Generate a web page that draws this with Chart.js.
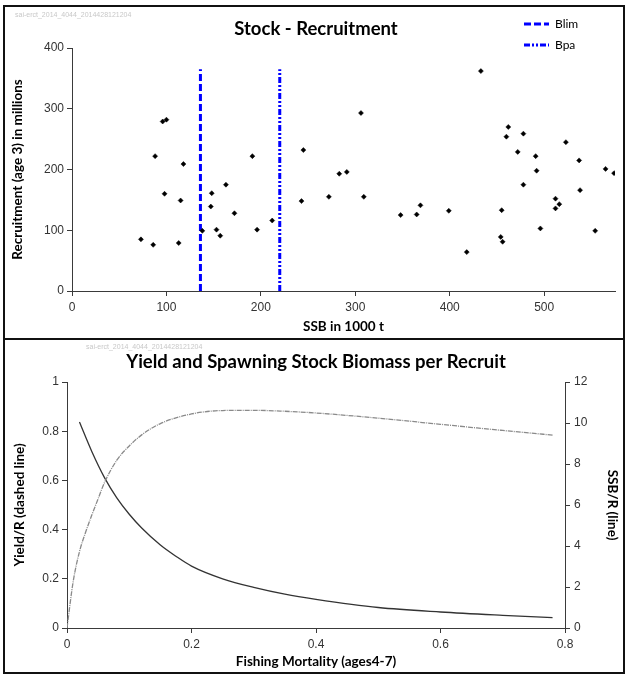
<!DOCTYPE html>
<html><head><meta charset="utf-8">
<script src="https://cdn.jsdelivr.net/npm/chart.js@4.4.0/dist/chart.umd.min.js"></script>
<style>
html,body{margin:0;padding:0;background:#fff;width:627px;height:675px;overflow:hidden;position:relative;}
.panel{position:absolute;border:2px solid #111;box-sizing:border-box;pointer-events:none;}
canvas{position:absolute;left:0;}
</style></head><body>
<canvas id="c1" width="627" height="338" style="top:0px;width:627px;height:338px"></canvas>
<canvas id="c2" width="627" height="336" style="top:339px;width:627px;height:336px"></canvas>
<div class="panel" style="left:3px;top:5px;width:622px;height:335px"></div>
<div class="panel" style="left:3px;top:338px;width:622px;height:336px"></div>
<script>
// ---------- Stock - Recruitment data ----------
const ssbValues = [73, 86, 88, 96, 100, 98, 113, 115, 118, 138, 147, 148, 153, 157, 163, 172, 191, 196, 212, 245, 243, 272, 283, 291, 306, 309, 348, 365, 369, 399, 418, 433, 454, 456, 455, 460, 462, 472, 478, 478, 491, 492, 496, 512, 512, 516, 523, 537, 538, 554, 565, 574];
const recruitValues = [85, 76, 222, 279, 282, 160, 79, 149, 209, 99, 139, 161, 101, 91, 175, 128, 222, 101, 116, 232, 148, 155, 193, 196, 293, 155, 125, 126, 141, 132, 64, 362, 89, 81, 133, 254, 270, 229, 259, 175, 222, 198, 103, 152, 136, 143, 245, 215, 166, 99, 201, 194];
const blimValue = 136;
const bpaValue = 220;
const refLineRange = [0, 365];
const srXTicks = [0, 100, 200, 300, 400, 500];
const srYTicks = [0, 100, 200, 300, 400];

// ---------- Yield / SSB per recruit data ----------
const fYield = [0, 0.01, 0.02, 0.03, 0.04, 0.05, 0.06, 0.08, 0.10, 0.12, 0.15, 0.20, 0.25, 0.30, 0.35, 0.40, 0.50, 0.60, 0.70, 0.78];
const yieldPerRecruit = [0, 0.19, 0.31, 0.39, 0.46, 0.525, 0.59, 0.682, 0.740, 0.785, 0.831, 0.870, 0.884, 0.885, 0.881, 0.874, 0.853, 0.828, 0.803, 0.784];
const fSsb = [0.02, 0.04, 0.06, 0.08, 0.10, 0.12, 0.15, 0.175, 0.20, 0.25, 0.30, 0.35, 0.40, 0.50, 0.60, 0.70, 0.78];
const ssbPerRecruit = [10.05, 8.6, 7.35, 6.35, 5.55, 4.88, 4.05, 3.5, 3.02, 2.4, 1.98, 1.65, 1.40, 1.0, 0.78, 0.62, 0.51];
const ypXTicks = [0, 0.2, 0.4, 0.6, 0.8];
const ypLeftTicks = [0, 0.2, 0.4, 0.6, 0.8, 1];
const ypRightTicks = [0, 2, 4, 6, 8, 10, 12];

const watermark = 'sai-erct_2014_4044_2014428121204';
const TICK_FONT = {family: "'Liberation Sans', Arial, sans-serif", size: 12};
const TITLE_FAMILY = "Lato, 'Open Sans', sans-serif";
const AXIS_TITLE_FONT = {family: TITLE_FAMILY, size: 13.5, weight: 'bold'};
const AXIS_COLOR = '#3a3a3a';

function tickSetter(arr){ return function(scale){ scale.ticks = arr.map(v => ({value: v})); }; }
const plainLabel = v => String(+Number(v).toFixed(3));

const decor = {
  id: 'decor',
  afterDraw(chart, args, o) {
    const ctx = chart.ctx;
    ctx.save();
    ctx.fillStyle = '#c8c8c8';
    ctx.font = '7px ' + "'Liberation Sans', Arial, sans-serif";
    ctx.textBaseline = 'middle';
    ctx.textAlign = 'left';
    ctx.fillText(watermark, o.markX, o.markY);
    ctx.fillStyle = '#000';
    ctx.font = 'bold 18.5px ' + TITLE_FAMILY;
    ctx.textAlign = 'center';
    ctx.fillText(o.title, o.titleX, o.titleY);
    (o.legend || []).forEach((item) => {
      const ds = chart.data.datasets[item.index];
      const y = item.y;
      ctx.beginPath();
      ctx.setLineDash(ds.borderDash || []);
      ctx.lineWidth = ds.borderWidth;
      ctx.strokeStyle = ds.borderColor;
      ctx.moveTo(item.x1, y); ctx.lineTo(item.x2, y);
      ctx.stroke();
      ctx.setLineDash([]);
      ctx.fillStyle = '#000';
      ctx.font = '12px ' + TITLE_FAMILY;
      ctx.textAlign = 'left';
      ctx.fillText(ds.label, item.x2 + 6, y);
    });
    ctx.restore();
  }
};

function axisBase(extra){
  return Object.assign({
    grid: {drawOnChartArea: false, drawTicks: true, tickLength: 5, tickColor: AXIS_COLOR},
    border: {display: true, color: AXIS_COLOR, width: 1}
  }, extra);
}

// ---------- Chart 1 ----------
new Chart(document.getElementById('c1'), {
  type: 'scatter',
  data: {
    datasets: [
      {label: 'Recruitment', data: ssbValues.map((x, i) => ({x: x, y: recruitValues[i]})),
       pointStyle: 'rectRot', pointRadius: 2.5, backgroundColor: '#000', borderColor: '#000', borderWidth: 0.5, showLine: false},
      {label: 'Blim', data: refLineRange.map(y => ({x: blimValue, y: y})), showLine: true, pointRadius: 0,
       borderColor: '#0000ff', borderWidth: 3, borderDash: [7, 3]},
      {label: 'Bpa', data: refLineRange.map(y => ({x: bpaValue, y: y})), showLine: true, pointRadius: 0,
       borderColor: '#0000ff', borderWidth: 3, borderDash: [6, 2, 2, 2, 2, 2]}
    ]
  },
  options: {
    responsive: false, animation: false, devicePixelRatio: 1,
    layout: {padding: {left: 0, right: 12, top: 48, bottom: 0}},
    plugins: {
      legend: {display: false}, tooltip: {enabled: false},
      decor: {title: 'Stock - Recruitment', titleX: 316, titleY: 29, markX: 15, markY: 15,
        legend: [{index: 1, x1: 524, x2: 549, y: 24}, {index: 2, x1: 524, x2: 549, y: 45}]}
    },
    scales: {
      x: axisBase({type: 'linear', min: 0, max: 575,
        afterBuildTicks: tickSetter(srXTicks),
        afterFit: s => { s.height = 47; },
        ticks: {font: TICK_FONT, color: '#333', padding: 4, maxRotation: 0, callback: plainLabel},
        title: {display: true, text: 'SSB in 1000 t', color: '#000', font: AXIS_TITLE_FONT, padding: {top: 3, bottom: 3}}}),
      y: axisBase({type: 'linear', min: 0, max: 400,
        afterBuildTicks: tickSetter(srYTicks),
        afterFit: s => { s.width = 72; },
        ticks: {font: TICK_FONT, color: '#333', padding: 3, callback: plainLabel},
        title: {display: true, text: 'Recruitment (age 3) in millions', color: '#000', font: AXIS_TITLE_FONT, padding: {top: 10, bottom: 0}}})
    }
  },
  plugins: [decor]
});

// ---------- Chart 2 ----------
new Chart(document.getElementById('c2'), {
  type: 'line',
  data: {
    datasets: [
      {label: 'Yield/R', data: fYield.map((f, i) => ({x: f, y: yieldPerRecruit[i]})), yAxisID: 'yL',
       borderColor: '#8a8a8a', borderWidth: 1.3, borderDash: [5, 1, 1, 1], pointRadius: 0, fill: false, cubicInterpolationMode: 'monotone'},
      {label: 'SSB/R', data: fSsb.map((f, i) => ({x: f, y: ssbPerRecruit[i]})), yAxisID: 'yR',
       borderColor: '#333', borderWidth: 1.3, pointRadius: 0, fill: false, cubicInterpolationMode: 'monotone'}
    ]
  },
  options: {
    responsive: false, animation: false, devicePixelRatio: 1,
    layout: {padding: {left: 0, right: 0, top: 43, bottom: 0}},
    plugins: {
      legend: {display: false}, tooltip: {enabled: false},
      decor: {title: 'Yield and Spawning Stock Biomass per Recruit', titleX: 316, titleY: 23, markX: 86, markY: 8}
    },
    scales: {
      x: axisBase({type: 'linear', min: 0, max: 0.8,
        afterBuildTicks: tickSetter(ypXTicks),
        afterFit: s => { s.height = 47; },
        ticks: {font: TICK_FONT, color: '#333', padding: 4, maxRotation: 0, callback: plainLabel},
        title: {display: true, text: 'Fishing Mortality (ages4-7)', color: '#000', font: AXIS_TITLE_FONT, padding: {top: 5, bottom: 5}}}),
      yL: axisBase({type: 'linear', position: 'left', min: 0, max: 1,
        afterBuildTicks: tickSetter(ypLeftTicks),
        afterFit: s => { s.width = 67; },
        ticks: {font: TICK_FONT, color: '#333', padding: 3, callback: plainLabel},
        title: {display: true, text: 'Yield/R (dashed line)', color: '#000', font: AXIS_TITLE_FONT, padding: {top: 12, bottom: 0}}}),
      yR: axisBase({type: 'linear', position: 'right', min: 0, max: 12,
        afterBuildTicks: tickSetter(ypRightTicks),
        afterFit: s => { s.width = 62; },
        ticks: {font: TICK_FONT, color: '#333', padding: 4, callback: plainLabel},
        title: {display: true, text: 'SSB/R (line)', color: '#000', font: AXIS_TITLE_FONT, padding: {top: 7, bottom: 0}}})
    }
  },
  plugins: [decor]
});
</script>
</body></html>
